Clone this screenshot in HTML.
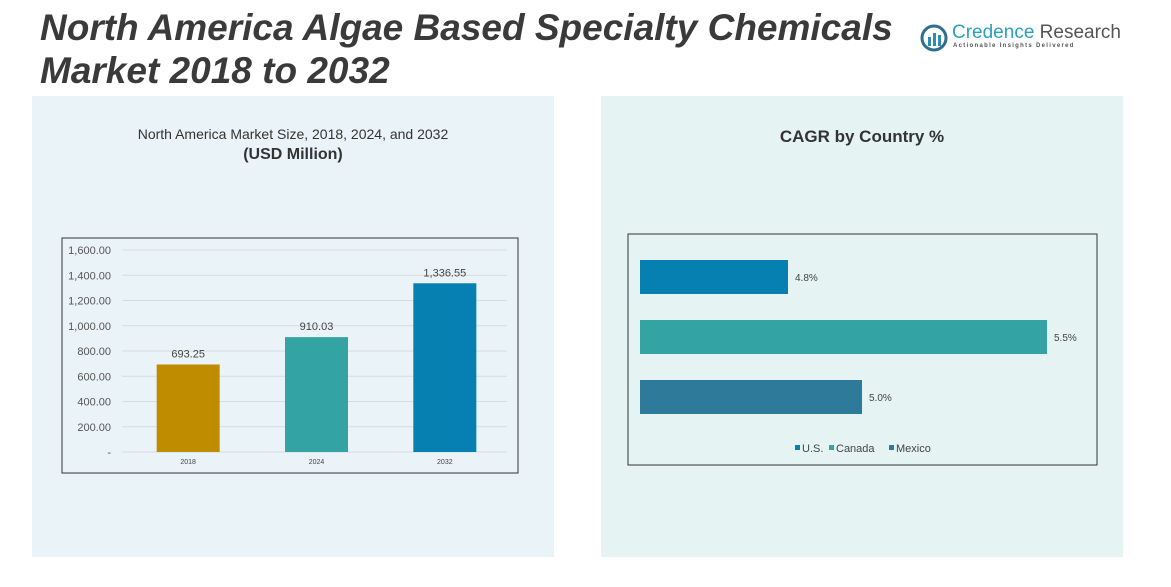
<!DOCTYPE html>
<html><head><meta charset="utf-8"><style>
body{margin:0;width:1171px;height:587px;background:#fff;font-family:"Liberation Sans",sans-serif;position:relative;overflow:hidden}
.abs{position:absolute}
</style></head><body>
<div class="abs" style="left:40px;top:6px;font-size:37px;font-weight:bold;font-style:italic;color:#3a3a3a;line-height:43px">North America Algae Based Specialty Chemicals<br>Market 2018 to 2032</div>
<div class="abs" style="left:920px;top:22px;width:200px;height:32px">
<svg width="30" height="30" class="abs" style="left:0;top:2px"><circle cx="14" cy="14" r="12" fill="none" stroke="#2f6e8e" stroke-width="3"/><rect x="8" y="13" width="3" height="9" fill="#2f8bb0"/><rect x="13" y="9" width="3" height="13" fill="#2f8bb0"/><rect x="18" y="11" width="3" height="11" fill="#2f8bb0"/></svg>
<div class="abs" style="left:32px;top:0;font-size:19px;color:#2a9fc0;white-space:nowrap">Credence <span style="color:#555">Research</span></div>
<div class="abs" style="left:33px;top:21px;font-size:6px;letter-spacing:1.3px;color:#555;white-space:nowrap;font-weight:bold">Actionable Insights Delivered</div>
</div>
<div class="abs" style="left:32px;top:96px;width:522px;height:461px;background:#eaf3f8"></div>
<div class="abs" style="left:601px;top:96px;width:522px;height:461px;background:#e5f3f3"></div>
<div class="abs" style="left:32px;top:126px;width:522px;text-align:center;font-size:14px;color:#333">North America Market Size, 2018, 2024, and 2032<br><b style="font-size:16px;line-height:26px">(USD Million)</b></div>
<div class="abs" style="left:601px;top:127px;width:522px;text-align:center;font-size:17px;font-weight:bold;color:#333">CAGR by Country %</div>
<svg class="abs" id="bar" style="left:0;top:0" width="1171" height="587"></svg>
<script>
const years=["2018","2024","2032"];
const sizes=[693.25,910.03,1336.55];
const sizeLabels=["693.25","910.03","1,336.55"];
const yTicks=[0,200,400,600,800,1000,1200,1400,1600];
const yTickLabels=["-","200.00","400.00","600.00","800.00","1,000.00","1,200.00","1,400.00","1,600.00"];
const countries=["U.S.","Canada","Mexico"];
const cagr=[4.8,5.5,5.0];
const cagrLabels=["4.8%","5.5%","5.0%"];
const barColors=["#bf8c00","#33a3a3","#0580b0"];
const hColors=["#0680b0","#33a3a3","#2e7a9a"];
const NS="http://www.w3.org/2000/svg";
const svg=document.getElementById('bar');
function mk(t,a,txt){const e=document.createElementNS(NS,t);for(const k in a)e.setAttribute(k,a[k]);if(txt!==undefined)e.textContent=txt;svg.appendChild(e);return e;}
const fr=mk('rect',{x:62,y:238,width:456,height:235,fill:'none',stroke:'#333','stroke-width':1});


const y0=452,yH=202,yMax=1600,xL=122,xR=507;
const yS=v=>y0-v/yMax*yH;
yTicks.forEach((t,i)=>{
 const l=mk('line',{x1:xL,x2:xR,y1:yS(t),y2:yS(t),stroke:'#d5dde2','stroke-width':1});
 
 
 const tx=mk('text',{x:111,y:yS(t)+4,'text-anchor':'end','font-size':11,fill:'#555'},yTickLabels[i]);
 
 
});
const bw=(xR-xL)/years.length;
years.forEach((y,i)=>{
 const cx=xL+bw*(i+0.5)+2;
 const r=mk('rect',{x:cx-31.5,y:yS(sizes[i]),width:63,height:y0-yS(sizes[i]),fill:barColors[i]});
 
 
 const v=mk('text',{x:cx,y:yS(sizes[i])-7,'text-anchor':'middle','font-size':11,fill:'#444'},sizeLabels[i]);
 
 
 const c=mk('text',{x:cx,y:464,'text-anchor':'middle','font-size':7,fill:'#444'},y);
 
 
});
const fr2=mk('rect',{x:628,y:234,width:469,height:231,fill:'none',stroke:'#333','stroke-width':1});


const hx0=640,hMin=4.4,hScale=370;
const hS=v=>(v-hMin)*hScale;
countries.forEach((c,i)=>{
 const yy=260+i*60;
 const r=mk('rect',{x:hx0,y:yy,width:hS(cagr[i]),height:34,fill:hColors[i]});
 
 
 const t=mk('text',{x:hx0+hS(cagr[i])+7,y:yy+21,'font-size':10,fill:'#444'},cagrLabels[i]);
 
 
});
let lx=795;
countries.forEach((c,i)=>{
 const s=mk('rect',{x:lx,y:445,width:5,height:5,fill:hColors[i]});
 
 
 const t=mk('text',{x:lx+7,y:452,'font-size':11,fill:'#444'},c);
 
 
 lx+=[34,60,60][i];
});
</script>
</body></html>
